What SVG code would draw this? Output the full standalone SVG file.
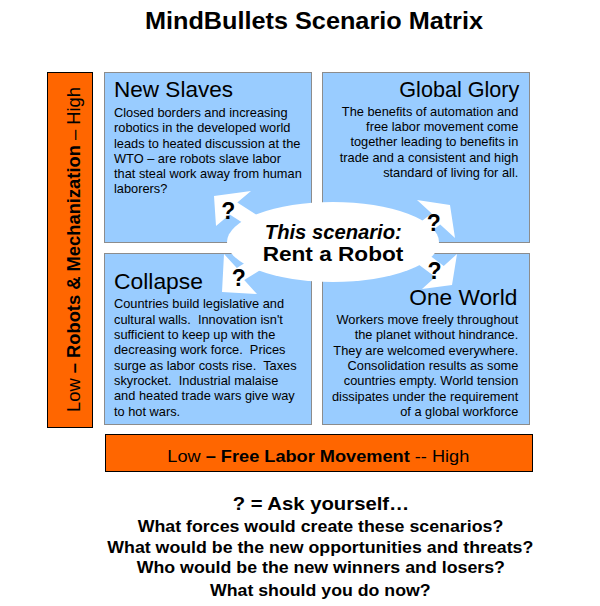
<svg xmlns="http://www.w3.org/2000/svg" width="600" height="606" viewBox="0 0 600 606">
<style>
text { font-family: "Liberation Sans", Arial, sans-serif; fill: #000; }
.box { fill: #99CCFF; stroke: #8c8c8c; stroke-width: 1; }
.bar { fill: #FF6600; stroke: #000; stroke-width: 1; }
.ttl { font-size: 21.5px; }
.body { font-size: 12.8px; white-space: pre; }
.end { text-anchor: end; }
.mid { text-anchor: middle; }
.b { font-weight: bold; }
.q { font-size: 23px; font-weight: bold; text-anchor: middle; }
.leg { font-size: 17px; font-weight: bold; text-anchor: middle; }
.arrow { fill: #fff; stroke: none; }
</style>
<rect width="600" height="606" fill="#fff"/>

<g id="title">
<text class="b mid" x="314" y="29" font-size="24" textLength="338" lengthAdjust="spacingAndGlyphs">MindBullets Scenario Matrix</text>
</g>

<g id="axis-robots">
<rect class="bar" x="47.5" y="72.5" width="45" height="355"/>
<text transform="translate(79.5,249.5) rotate(-90)" class="mid" font-size="18.5" textLength="325" lengthAdjust="spacingAndGlyphs">Low <tspan class="b">– Robots &amp; Mechanization</tspan> – High</text>
</g>

<g id="axis-labor">
<rect class="bar" x="105.5" y="434.5" width="427" height="37"/>
<text x="318.3" y="461.7" class="mid" font-size="16.5" textLength="302" lengthAdjust="spacingAndGlyphs">Low <tspan class="b">– Free Labor Movement</tspan> -- High</text>
</g>

<g id="new-slaves">
<rect class="box" x="104.5" y="72.5" width="207" height="170"/>
<text class="ttl" x="114" y="96.7" textLength="119" lengthAdjust="spacingAndGlyphs">New Slaves</text>
<text class="body" x="114" y="117.3">Closed borders and increasing</text>
<text class="body" x="114" y="132.4">robotics in the developed world</text>
<text class="body" x="114" y="147.5">leads to heated discussion at the</text>
<text class="body" x="114" y="162.6">WTO – are robots slave labor</text>
<text class="body" x="114" y="177.7">that steal work away from human</text>
<text class="body" x="114" y="192.8">laborers?</text>
</g>

<g id="global-glory">
<rect class="box" x="322.5" y="72.5" width="207" height="170"/>
<text class="ttl end" x="519.3" y="97.3" textLength="120" lengthAdjust="spacingAndGlyphs">Global Glory</text>
<text class="body end" x="518.3" y="116.2">The benefits of automation and</text>
<text class="body end" x="518.3" y="131.2">free labor movement come</text>
<text class="body end" x="518.3" y="146.3">together leading to benefits in</text>
<text class="body end" x="518.3" y="161.5">trade and a consistent and high</text>
<text class="body end" x="518.3" y="176.7">standard of living for all.</text>
</g>

<g id="collapse">
<rect class="box" x="104.5" y="253.5" width="207" height="171"/>
<text class="ttl" x="114" y="289.3" textLength="89" lengthAdjust="spacingAndGlyphs">Collapse</text>
<text class="body" x="114" y="308.4">Countries build legislative and</text>
<text class="body" x="114" y="323.6" xml:space="preserve">cultural walls.  Innovation isn't</text>
<text class="body" x="114" y="338.9">sufficient to keep up with the</text>
<text class="body" x="114" y="354.2" xml:space="preserve">decreasing work force.  Prices</text>
<text class="body" x="114" y="369.6" xml:space="preserve">surge as labor costs rise.  Taxes</text>
<text class="body" x="114" y="384.9" xml:space="preserve">skyrocket.  Industrial malaise</text>
<text class="body" x="114" y="400.3">and heated trade wars give way</text>
<text class="body" x="114" y="415.7">to hot wars.</text>
</g>

<g id="one-world">
<rect class="box" x="322.5" y="253.5" width="207" height="171"/>
<text class="ttl end" x="517.3" y="305" textLength="108" lengthAdjust="spacingAndGlyphs">One World</text>
<text class="body end" x="518.3" y="324">Workers move freely throughout</text>
<text class="body end" x="518.3" y="339.3">the planet without hindrance.</text>
<text class="body end" x="518.3" y="354.5">They are welcomed everywhere.</text>
<text class="body end" x="518.3" y="369.9">Consolidation results as some</text>
<text class="body end" x="518.3" y="385.2">countries empty. World tension</text>
<text class="body end" x="518.3" y="400.5">dissipates under the requirement</text>
<text class="body end" x="518.3" y="415.8">of a global workforce</text>
</g>

<g id="connectors">
<polygon class="arrow" points="214,196 251,191 237.3,202.6 270.9,224.2 263.3,236 229.7,214.4 216,226"/>
<polygon class="arrow" points="450,205 455,238 440.2,224.6 408.2,248.6 399.8,237.4 431.8,213.4 417,200"/>
<polygon class="arrow" points="452,285 457,254 443.7,265.9 411.7,241.9 403.3,253.1 435.3,277.1 422,289"/>
<polygon class="arrow" points="222,292 224,254 236.8,268 270.8,246.8 278.2,258.8 244.2,280 257,294"/>
</g>

<g id="this-scenario">
<ellipse cx="333" cy="242" rx="106" ry="40" fill="#fff"/>
<text class="b mid" x="333.3" y="239.3" font-size="20" font-style="italic" textLength="137" lengthAdjust="spacingAndGlyphs">This scenario:</text>
<text class="b mid" x="333" y="260.7" font-size="21" textLength="140.7" lengthAdjust="spacingAndGlyphs">Rent a Robot</text>
<text class="q" x="228.3" y="218.5">?</text>
<text class="q" x="433.7" y="231">?</text>
<text class="q" x="434.5" y="279.3">?</text>
<text class="q" x="238.7" y="285.7">?</text>
</g>

<g id="legend">
<text class="b mid" x="321" y="510" font-size="19" textLength="176.7" lengthAdjust="spacingAndGlyphs">? = Ask yourself…</text>
<text class="leg" x="320.5" y="531.7" textLength="365.7" lengthAdjust="spacingAndGlyphs">What forces would create these scenarios?</text>
<text class="leg" x="320.3" y="552.7" textLength="426" lengthAdjust="spacingAndGlyphs">What would be the new opportunities and threats?</text>
<text class="leg" x="320.8" y="573.3" textLength="368.3" lengthAdjust="spacingAndGlyphs">Who would be the new winners and losers?</text>
<text class="leg" x="320.3" y="595.7" textLength="220.7" lengthAdjust="spacingAndGlyphs">What should you do now?</text>
</g>
</svg>
